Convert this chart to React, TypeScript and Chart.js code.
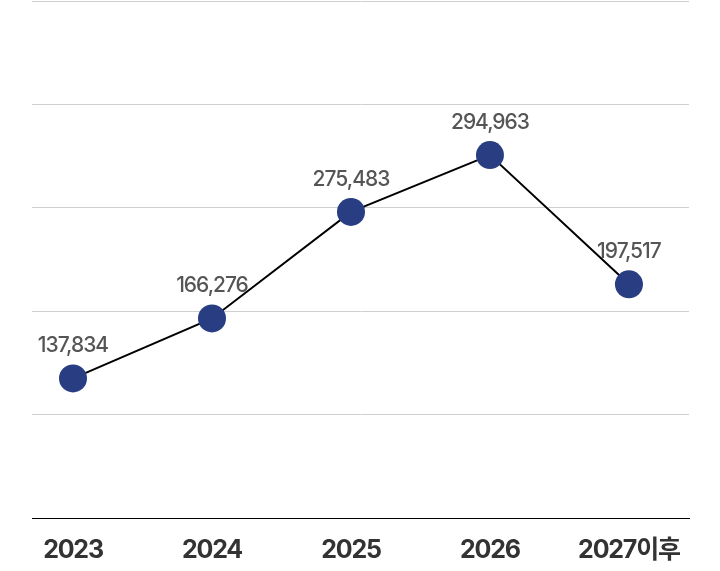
import React, { useEffect, useRef } from "react";
import { Chart, registerables } from "chart.js";

Chart.register(...registerables);

const categories = ["2023", "2024", "2025", "2026", "2027이후"];
const valueLabels = ["137,834", "166,276", "275,483", "294,963", "197,517"];
// plotted heights (axis 0..500)
const plotValues = [135, 193, 296, 351, 226];
const yTicks = [0, 100, 200, 300, 400, 500];

const FONT = 'Inter, "Noto Sans CJK KR", sans-serif';

const spacingPlugin = {
  id: "spacing",
  beforeDraw(chart: any) {
    chart.ctx.letterSpacing = "-1.2px";
  },
};

const labelPlugin = {
  id: "valueLabels",
  afterDatasetsDraw(chart: any) {
    const ctx = chart.ctx;
    const meta = chart.getDatasetMeta(0);
    ctx.save();
    ctx.letterSpacing = "-1px";
    ctx.font = `500 21px ${FONT}`;
    ctx.fillStyle = "#555555";
    ctx.textAlign = "center";
    ctx.textBaseline = "alphabetic";
    meta.data.forEach((pt: any, i: number) => {
      ctx.fillText(valueLabels[i], pt.x, pt.y - 26);
    });
    ctx.restore();
  },
};

export default function App() {
  const ref = useRef<HTMLCanvasElement>(null);
  useEffect(() => {
    if (!ref.current) return;
    const chart = new Chart(ref.current, {
      type: "line",
      data: {
        datasets: [
          {
            data: plotValues.map((v, i) => ({ x: i, y: v })),
            borderColor: "#000000",
            borderWidth: 2,
            pointRadius: 14,
            pointHoverRadius: 14,
            pointBackgroundColor: "#283d82",
            pointBorderColor: "#283d82",
            pointBorderWidth: 0,
            tension: 0,
          },
        ],
      },
      options: {
        responsive: false,
        animation: false,
        layout: { autoPadding: false, padding: { left: 32, right: 31, top: 1, bottom: -11 } },
        plugins: { legend: { display: false }, tooltip: { enabled: false } },
        scales: {
          x: {
            type: "linear",
            min: -0.295,
            max: 4.432,
            afterBuildTicks: (axis: any) => {
              axis.ticks = categories.map((_, i) => ({ value: i }));
            },
            ticks: {
              callback: (v: any) => categories[Math.round(Number(v))] ?? "",
              font: { family: FONT, size: 25, weight: "bold", lineHeight: 1.2 },
              color: "#333333",
              padding: 17,
              maxRotation: 0,
            },
            grid: { display: false, drawTicks: false },
            border: { display: true, color: "#000000", width: 1 },
          },
          y: {
            min: 0,
            max: 500,
            afterBuildTicks: (axis: any) => {
              axis.ticks = yTicks.map((v) => ({ value: v }));
            },
            ticks: { display: false },
            grid: { color: "#cfcfcf", lineWidth: 1, drawTicks: false },
            border: { display: false },
          },
        },
      },
      plugins: [spacingPlugin, labelPlugin],
    });
    return () => chart.destroy();
  }, []);
  return (
    <div style={{ position: "fixed", left: 0, top: 0, width: 720, height: 571, background: "#fff" }}>
      <canvas ref={ref} width={720} height={571} />
    </div>
  );
}
